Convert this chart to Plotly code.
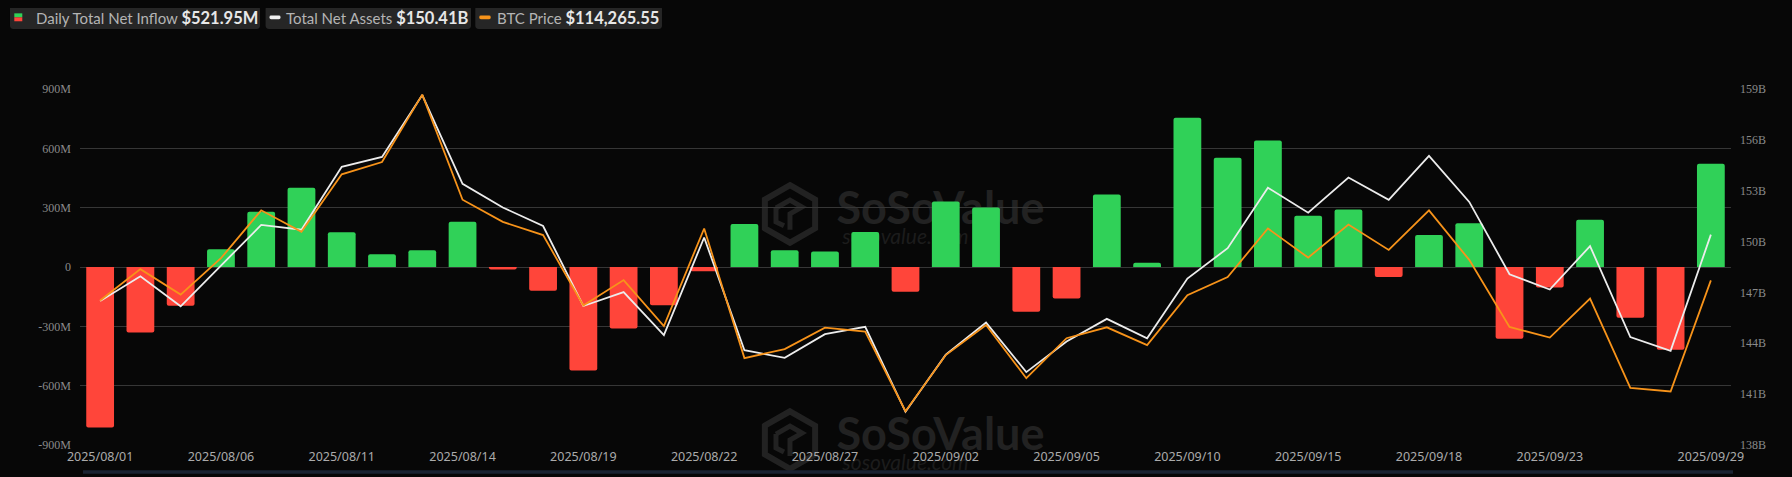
import plotly.graph_objects as go

# ---------------- data ----------------
dates = ["2025/08/01", "2025/08/04", "2025/08/05", "2025/08/06", "2025/08/07", "2025/08/08",
         "2025/08/11", "2025/08/12", "2025/08/13", "2025/08/14", "2025/08/15",
         "2025/08/18", "2025/08/19", "2025/08/20", "2025/08/21", "2025/08/22",
         "2025/08/25", "2025/08/26", "2025/08/27", "2025/08/28", "2025/08/29",
         "2025/09/02", "2025/09/03", "2025/09/04", "2025/09/05",
         "2025/09/08", "2025/09/09", "2025/09/10", "2025/09/11", "2025/09/12",
         "2025/09/15", "2025/09/16", "2025/09/17", "2025/09/18", "2025/09/19",
         "2025/09/22", "2025/09/23", "2025/09/24", "2025/09/25", "2025/09/26",
         "2025/09/29"]

# Daily total net inflow, millions USD
net_inflow_m = [-812, -331, -196, 90, 279, 401, 176, 64, 85, 229, -13,
                -120, -523, -311, -194, -22, 217, 85, 79, 177, -125,
                331, 301, -226, -159, 366, 22, 755, 552, 640,
                259, 291, -50, 162, 221, -363, -104, 239, -257, -418, 521.95]

# Total net assets, billions USD
net_assets_b = [146.49, 147.95, 146.18, 148.58, 150.98, 150.70, 154.41, 154.99, 158.64, 153.41, 152.01,
                150.92, 146.20, 147.02, 144.48, 150.24, 143.59, 143.14, 144.54, 144.97, 139.96,
                143.33, 145.22, 142.30, 144.11, 145.44, 144.29, 147.82, 149.61, 153.18,
                151.70, 153.78, 152.46, 155.05, 152.34, 148.07, 147.17, 149.73, 144.37, 143.55, 150.41]

# BTC price, USD
btc_price = [113289, 114809, 113577, 115337, 117657, 116617, 119401, 119993, 123257, 118169, 117097,
             116457, 113049, 114281, 112057, 116777, 110505, 110937, 111977, 111785, 107929,
             110649, 112105, 109529, 111465, 111993, 111129, 113545, 114425, 116777,
             115369, 116969, 115737, 117657, 115257, 112009, 111497, 113385, 109065, 108889, 114265.55]

x_tick_labels = ["2025/08/01", "2025/08/06", "2025/08/11", "2025/08/14", "2025/08/19", "2025/08/22",
                 "2025/08/27", "2025/09/02", "2025/09/05", "2025/09/10", "2025/09/15", "2025/09/18",
                 "2025/09/23", "2025/09/29"]
left_ticks = [-900, -600, -300, 0, 300, 600, 900]
left_tick_text = ["-900M", "-600M", "-300M", "0", "300M", "600M", "900M"]
right_ticks = [138, 141, 144, 147, 150, 153, 156, 159]
right_tick_text = ["138B", "141B", "144B", "147B", "150B", "153B", "156B", "159B"]

# ---------------- styling ----------------
GREEN = "#30D158"
RED = "#FF453A"
WHITE_LINE = "#ECECEC"
ORANGE = "#F7931A"
BG = "#070707"
GRID = "#363636"

OFF = 8  # page body margin in the browser
PAGE_W, PAGE_H = 1792, 477
W, H = PAGE_W - OFF, PAGE_H - OFF
# target plot area in page pixels: x 80..1731, y 89..448
PL, PT, PR, PB = 80, 89, 1731, 448
L, T = PL - OFF, PT - OFF
R = W - (PR - OFF)
B = H - (PB - OFF)
PW, PH = PR - PL, PB - PT


def px(x):  # page x -> paper
    return (x - PL) / PW


def py(y):  # page y -> paper
    return (PB - y) / PH


def rounded_path(x0, y0, x1, y1, r):
    pts = [
        ("M", [(x0 + r, y0)]), ("L", [(x1 - r, y0)]), ("Q", [(x1, y0), (x1, y0 + r)]),
        ("L", [(x1, y1 - r)]), ("Q", [(x1, y1), (x1 - r, y1)]), ("L", [(x0 + r, y1)]),
        ("Q", [(x0, y1), (x0, y1 - r)]), ("L", [(x0, y0 + r)]), ("Q", [(x0, y0), (x0 + r, y0)]),
    ]
    s = ""
    for cmd, ps in pts:
        s += cmd + " " + " ".join(f"{px(a):.5f},{py(b):.5f}" for a, b in ps) + " "
    return s + "Z"


def poly_path(points, close=True):
    s = "M " + " L ".join(f"{px(a):.5f},{py(b):.5f}" for a, b in points)
    return s + (" Z" if close else "")


fig = go.Figure()

fig.add_trace(go.Bar(
    x=dates, y=net_inflow_m,
    marker=dict(color=[GREEN if v >= 0 else RED for v in net_inflow_m], line=dict(width=0),
                cornerradius=2),
    name="Daily Total Net Inflow", yaxis="y",
))
fig.add_trace(go.Scatter(
    x=dates, y=net_assets_b, mode="lines",
    line=dict(color=WHITE_LINE, width=1.8),
    name="Total Net Assets", yaxis="y2",
))
fig.add_trace(go.Scatter(
    x=dates, y=btc_price, mode="lines",
    line=dict(color=ORANGE, width=1.8),
    name="BTC Price", yaxis="y3",
))

shapes = []
annotations = []


def hexagon(cx, cy, r):
    return [(cx, cy - r), (cx + 0.866 * r, cy - 0.5 * r), (cx + 0.866 * r, cy + 0.5 * r),
            (cx, cy + r), (cx - 0.866 * r, cy + 0.5 * r), (cx - 0.866 * r, cy - 0.5 * r)]


# ---- watermarks (below grid & data) ----
WM = "#222222"
for dy in (0, 228):
    cx, cy = 790, 215 + dy
    shapes.append(dict(type="path", xref="paper", yref="paper", layer="below",
                       path=poly_path(hexagon(cx, cy, 29)),
                       line=dict(color=WM, width=6), fillcolor="rgba(0,0,0,0)"))
    shapes.append(dict(type="path", xref="paper", yref="paper", layer="below",
                       path=poly_path([(cx - 14, cy - 6), (cx, cy - 14), (cx + 12, cy - 7),
                                       (cx, cy), (cx, cy + 16)], close=False),
                       line=dict(color=WM, width=5), fillcolor="rgba(0,0,0,0)"))
    shapes.append(dict(type="path", xref="paper", yref="paper", layer="below",
                       path=poly_path([(cx - 14, cy - 6), (cx - 14, cy + 8), (cx - 6, cy + 12)],
                                      close=False),
                       line=dict(color=WM, width=5), fillcolor="rgba(0,0,0,0)"))
    shapes.append(dict(type="rect", xref="paper", yref="paper", layer="below",
                       x0=px(830), x1=px(1051), y0=py(224 + dy), y1=py(189 + dy),
                       line=dict(width=0), fillcolor="rgba(0,0,0,0)",
                       label=dict(text="<b>SoSoValue</b>", textposition="middle center",
                                  font=dict(family="Lato", size=45, color=WM))))
    shapes.append(dict(type="rect", xref="paper", yref="paper", layer="below",
                       x0=px(830), x1=px(981), y0=py(246 + dy), y1=py(227 + dy),
                       line=dict(width=0), fillcolor="rgba(0,0,0,0)",
                       label=dict(text="<i>sosovalue.com</i>", textposition="middle center",
                                  font=dict(family="Lato", size=21, color="#1c1c1c"))))

# bottom slider strip
shapes.append(dict(type="rect", xref="paper", yref="paper", layer="below",
                   x0=px(83), x1=px(1733), y0=py(477), y1=py(473.5),
                   line=dict(width=0), fillcolor="#1a2332"))

# ---- legend boxes ----
BOX = "#262626"
boxes = [(10, 260), (265.6, 471), (475.3, 662)]
for x0, x1 in boxes:
    shapes.append(dict(type="path", xref="paper", yref="paper", layer="above",
                       path=rounded_path(x0, 5, x1, 28.5, 3.5),
                       line=dict(width=0), fillcolor=BOX))
shapes.append(dict(type="rect", xref="paper", yref="paper", x0=px(14.3), x1=px(22.3),
                   y0=py(16.7), y1=py(12.7), line=dict(width=0), fillcolor=GREEN))
shapes.append(dict(type="rect", xref="paper", yref="paper", x0=px(14.3), x1=px(22.3),
                   y0=py(20.7), y1=py(16.7), line=dict(width=0), fillcolor=RED))
shapes.append(dict(type="path", xref="paper", yref="paper",
                   path=rounded_path(269.5, 15, 280.5, 18.6, 1.5), line=dict(width=0),
                   fillcolor="#F2F2F2"))
shapes.append(dict(type="path", xref="paper", yref="paper",
                   path=rounded_path(479.3, 15, 490.7, 18.6, 1.5), line=dict(width=0),
                   fillcolor=ORANGE))

legend_items = [
    (33.5, "Daily Total Net Inflow", f"${net_inflow_m[-1]:.2f}M"),
    (283.5, "Total Net Assets", f"${net_assets_b[-1]:.2f}B"),
    (494.5, "BTC Price", f"${btc_price[-1]:,.2f}"),
]
for xs, lab, val in legend_items:
    annotations.append(dict(
        xref="paper", yref="paper", x=px(xs), y=py(17), xanchor="left", yanchor="middle",
        showarrow=False,
        text=f"<span style='color:#B4B4B4'>{lab}</span> "
             f"<span style='font-size:16.5px;color:#E8E8E8'><b>{val}</b></span>",
        font=dict(family="Lato", size=15, color="#B4B4B4"),
    ))

fig.update_layout(
    width=W, height=H,
    margin=dict(l=L, r=R, t=T, b=B, pad=0),
    paper_bgcolor=BG, plot_bgcolor="rgba(0,0,0,0)",
    showlegend=False,
    bargap=0.31,
    hovermode=False,
    shapes=shapes,
    annotations=annotations,
    xaxis=dict(
        type="category", categoryorder="array", categoryarray=dates,
        tickmode="array", tickvals=x_tick_labels, ticktext=x_tick_labels,
        showgrid=False, zeroline=False, showline=False, ticks="",
        tickfont=dict(family="Noto Sans", size=12.5, color="#ABABAB"),
        tickangle=0, ticklabelstandoff=2,
    ),
    yaxis=dict(
        range=[-900, 900], tickmode="array", tickvals=left_ticks, ticktext=left_tick_text,
        showgrid=True, gridcolor=GRID, gridwidth=1, zeroline=False, showline=False,
        tickfont=dict(family="Liberation Serif", size=12, color="#8A8A8A"),
        ticklabelstandoff=8,
    ),
    yaxis2=dict(
        overlaying="y", side="right", range=[138, 159], tickmode="array",
        tickvals=right_ticks, ticktext=right_tick_text,
        showgrid=False, zeroline=False, showline=False,
        tickfont=dict(family="Liberation Serif", size=12, color="#8A8A8A"),
        ticklabelstandoff=8,
    ),
    yaxis3=dict(
        overlaying="y", range=[106297, 123529], visible=False,
    ),
)

page_bg_js = (
    "document.body.style.background='" + BG + "';"
    "document.documentElement.style.background='" + BG + "';"
)
fig.write_html("out.html", post_script=page_bg_js)
